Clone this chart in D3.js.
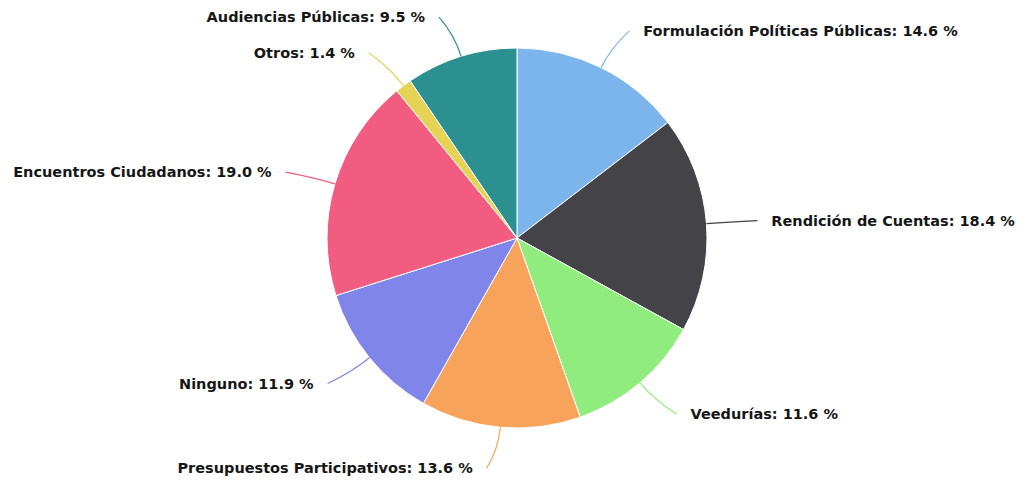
<!DOCTYPE html>
<html>
<head>
<meta charset="utf-8">
<style>
    body { margin: 0; background: #fff; }
    svg { display: block; }
    .label {
        font-family: "DejaVu Sans", sans-serif;
        font-weight: bold;
        font-size: 14.5px;
        fill: #161616;
    }
</style>
</head>
<body>
<svg width="1027" height="485"></svg>
<script src="https://d3js.org/d3.v7.min.js"></script>
<script>
    // data, clockwise from 12 o'clock
    let categories = ["Formulación Políticas Públicas", "Rendición de Cuentas", "Veedurías",
        "Presupuestos Participativos", "Ninguno", "Encuentros Ciudadanos", "Otros", "Audiencias Públicas"];
    let values = [14.6, 18.4, 11.6, 13.6, 11.9, 19.0, 1.4, 9.5];
    let colors = ["#7cb5ec", "#434348", "#90ed7d", "#f7a35c", "#8085e9", "#f15c80", "#e4d354", "#2b908f"];

    let width = 1027, height = 485;
    let cx = 517, cy = 238;
    let radius = 190;
    let labelRadius = radius + 41;

    let svg = d3.select("svg");

    let data = categories.map((c, i) => ({ name: c, value: values[i], color: colors[i] }));

    let pie = d3.pie().sort(null).value(d => d.value);
    let arcs = pie(data);

    let arc = d3.arc().innerRadius(0).outerRadius(radius);

    let g = svg.append("g").attr("transform", `translate(${cx},${cy})`);

    g.selectAll(".slice")
        .data(arcs)
        .join("path")
        .attr("class", "slice")
        .attr("d", arc)
        .style("fill", d => d.data.color)
        .style("stroke", "#fff")
        .style("stroke-width", 1);

    function polar(a, r) {
        return [Math.sin(a) * r, -Math.cos(a) * r];
    }

    // connectors
    g.selectAll(".connector")
        .data(arcs)
        .join("path")
        .attr("class", "connector")
        .attr("d", d => {
            let mid = (d.startAngle + d.endAngle) / 2;
            let side = Math.sin(mid) >= 0 ? 1 : -1;
            let p0 = polar(mid, radius);
            let c = polar(mid, radius + 22);
            let a = polar(mid, labelRadius);
            let end = [a[0] + side * 10, a[1]];
            return `M${p0[0]},${p0[1]} Q${c[0]},${c[1]} ${end[0]},${end[1]}`;
        })
        .style("fill", "none")
        .style("stroke", d => d.data.color)
        .style("stroke-width", 1.2);

    // labels
    g.selectAll(".label")
        .data(arcs)
        .join("text")
        .attr("class", "label")
        .attr("x", d => {
            let mid = (d.startAngle + d.endAngle) / 2;
            let side = Math.sin(mid) >= 0 ? 1 : -1;
            return polar(mid, labelRadius)[0] + side * 24;
        })
        .attr("y", d => polar((d.startAngle + d.endAngle) / 2, labelRadius)[1])
        .attr("dy", "0.35em")
        .attr("text-anchor", d => Math.sin((d.startAngle + d.endAngle) / 2) >= 0 ? "start" : "end")
        .text(d => `${d.data.name}: ${d.data.value.toFixed(1)} %`);
</script>
</body>
</html>
